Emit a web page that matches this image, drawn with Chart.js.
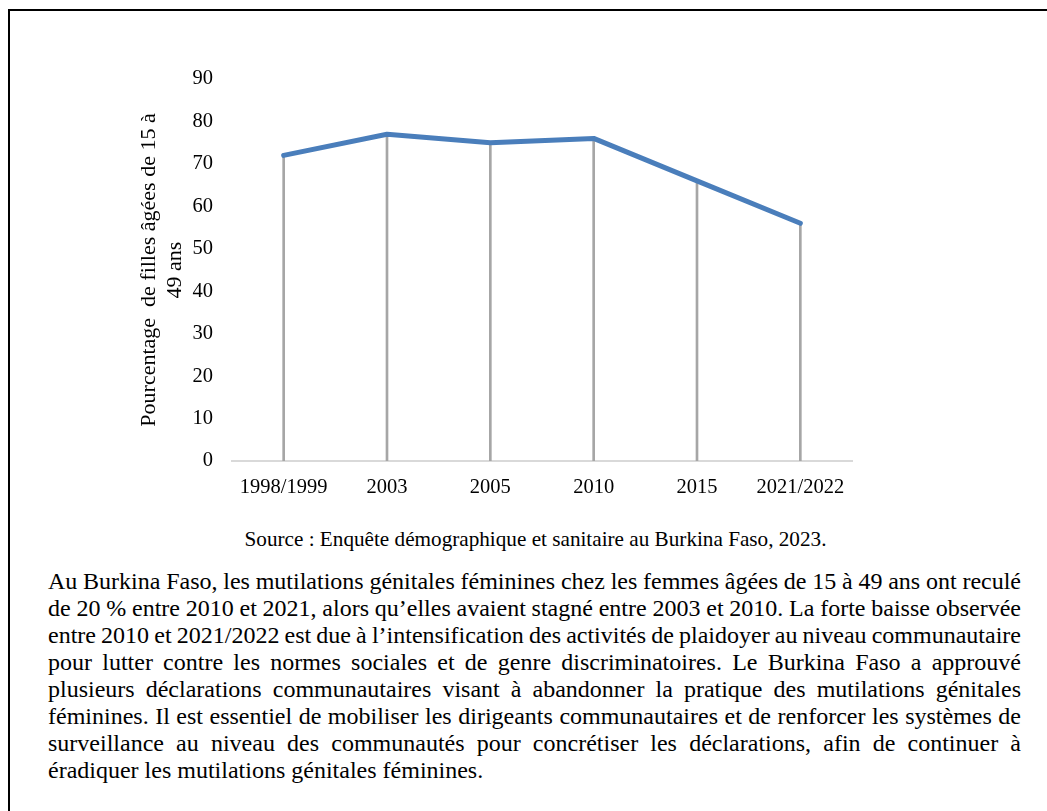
<!DOCTYPE html>
<html>
<head>
<meta charset="utf-8">
<script src="https://cdn.jsdelivr.net/npm/chart.js@4.4.1/dist/chart.umd.min.js"></script>
<style>
  html, body { margin: 0; padding: 0; width: 1047px; height: 811px; overflow: hidden; background: #fff; }
  #frame { position: absolute; left: 8px; top: 9px; width: 1100px; height: 900px; border: 2px solid #000; box-sizing: border-box; }
  #wrap { position: absolute; left: 0; top: 0; width: 1047px; height: 520px; }
  #source { position: absolute; left: 0; width: 1071px; top: 527px; text-align: center; font-family: "Liberation Serif", serif; font-size: 21.2px; color: #000; white-space: nowrap; }
  #para { position: absolute; left: 48px; width: 973px; top: 568px; font-family: "Liberation Serif", serif; font-size: 24px; line-height: 27px; color: #000; margin: 0; }
  #para div { white-space: nowrap; }
  #para span { white-space: nowrap; }
</style>
</head>
<body>
<div id="frame"></div>
<div id="wrap"><canvas id="c"></canvas></div>
<div id="source">Source : Enquête démographique et sanitaire au Burkina Faso, 2023.</div>
<div id="para">
<div class="j"><span>Au Burkina Faso, les mutilations génitales féminines chez les femmes âgées de 15 à 49 ans ont reculé</span></div>
<div class="j"><span>de 20 % entre 2010 et 2021, alors qu’elles avaient stagné entre 2003 et 2010. La forte baisse observée</span></div>
<div class="j"><span>entre 2010 et 2021/2022 est due à l’intensification des activités de plaidoyer au niveau communautaire</span></div>
<div class="j"><span>pour lutter contre les normes sociales et de genre discriminatoires. Le Burkina Faso a approuvé</span></div>
<div class="j"><span>plusieurs déclarations communautaires visant à abandonner la pratique des mutilations génitales</span></div>
<div class="j"><span>féminines. Il est essentiel de mobiliser les dirigeants communautaires et de renforcer les systèmes de</span></div>
<div class="j"><span>surveillance au niveau des communautés pour concrétiser les déclarations, afin de continuer à</span></div>
<div><span>éradiquer les mutilations génitales féminines.</span></div>
</div>
<script>
const categories = ["1998/1999", "2003", "2005", "2010", "2015", "2021/2022"];
const prevalence = [72, 77, 75, 76, 66, 56];
const yTitle = ["Pourcentage  de filles âgées de 15 à", "49 ans"];
const yMin = 0, yMax = 90, yStep = 10;

const serif = '"Liberation Serif", serif';

// justify each paragraph line to the full text width
(function justify() {
  const target = 973;
  document.querySelectorAll('#para .j span').forEach(sp => {
    sp.style.wordSpacing = '0px';
    const w = sp.getBoundingClientRect().width;
    const n = (sp.textContent.match(/[ \u00a0]/g) || []).length;
    if (n > 0) sp.style.wordSpacing = ((target - w) / n) + 'px';
  });
})();

new Chart(document.getElementById('c'), {
  data: {
    labels: categories,
    datasets: [
      {
        type: 'line',
        data: prevalence,
        borderColor: '#4a7ebb',
        borderWidth: 5,
        pointRadius: 0,
        pointHoverRadius: 0,
        borderCapStyle: 'round',
        borderJoinStyle: 'round',
        tension: 0,
        order: 0
      },
      {
        type: 'bar',
        data: prevalence,
        backgroundColor: '#a6a6a6',
        barThickness: 2,
        order: 1
      }
    ]
  },
  options: {
    responsive: true,
    maintainAspectRatio: false,
    animation: false,
    layout: { padding: { left: 137, right: 195, top: 79, bottom: 0 } },
    plugins: { legend: { display: false }, tooltip: { enabled: false } },
    scales: {
      x: {
        offset: true,
        grid: { display: false, drawTicks: false },
        border: { display: true, color: '#d9d9d9', width: 2 },
        ticks: { color: '#000', font: { family: serif, size: 20.5 }, padding: 14, maxRotation: 0 },
        afterFit: s => { s.height = 59; }
      },
      y: {
        min: yMin, max: yMax,
        grid: { display: false, drawTicks: false },
        border: { display: false },
        ticks: { stepSize: yStep, color: '#000', font: { family: serif, size: 20.5 }, padding: 19 },
        title: { display: true, text: yTitle, color: '#000', font: { family: serif, size: 22, lineHeight: 1.15 }, padding: 0 },
        afterFit: s => { s.width = 95; }
      }
    }
  }
});
</script>
</body>
</html>
